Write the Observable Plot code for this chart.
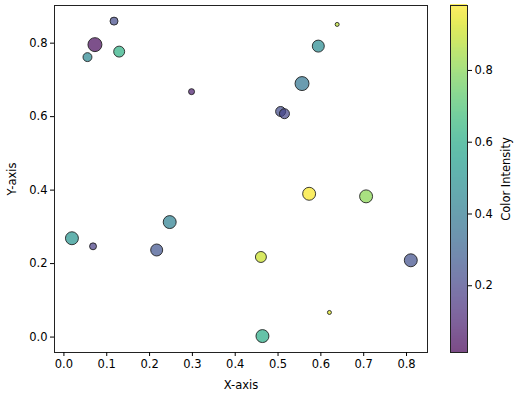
<!DOCTYPE html>
<html>
<head>
<meta charset="utf-8">
<script src="https://cdn.jsdelivr.net/npm/d3@7"></script>
<script src="https://cdn.jsdelivr.net/npm/@observablehq/plot@0.6"></script>
<style>
  html, body { margin: 0; padding: 0; background: #fff; }
  #wrap { position: relative; width: 525px; height: 395px; font-family: "DejaVu Sans", sans-serif; }
  #main, #cbar { position: absolute; top: 0; }
  #main { left: 0; }
  #cbar { left: 430px; }
</style>
</head>
<body>
<div id="wrap"><div id="main"></div><div id="cbar"></div></div>
<script>
const xs = [0.117, 0.0724, 0.055, 0.129, 0.298, 0.638, 0.594, 0.556, 0.506, 0.515,
            0.0187, 0.068, 0.2166, 0.247, 0.5726, 0.7056, 0.460, 0.810, 0.620, 0.4636];
const ys = [0.860, 0.796, 0.762, 0.777, 0.668, 0.851, 0.792, 0.690, 0.614, 0.608,
            0.269, 0.247, 0.237, 0.313, 0.390, 0.383, 0.218, 0.209, 0.067, 0.0027];
const colors = [0.22, 0.03, 0.45, 0.62, 0.08, 0.88, 0.47, 0.38, 0.22, 0.20,
                0.50, 0.18, 0.25, 0.42, 0.97, 0.80, 0.90, 0.24, 0.93, 0.60];
const sizes = [160, 490, 200, 300, 90, 40, 360, 490, 250, 250,
               420, 120, 360, 420, 420, 420, 300, 420, 40, 420];
const xTicks = [0, 0.1, 0.2, 0.3, 0.4, 0.5, 0.6, 0.7, 0.8];
const yTicks = [0, 0.2, 0.4, 0.6, 0.8];
const cTicks = [0.2, 0.4, 0.6, 0.8];
const colorDomain = [0.014, 0.981];

const points = xs.map((x, i) => ({x, y: ys[i], c: colors[i], s: sizes[i]}));
const font = "DejaVu Sans, sans-serif";

const main = Plot.plot({
  width: 430, height: 395,
  marginLeft: 54, marginRight: 3, marginTop: 5, marginBottom: 43,
  style: {fontFamily: font, fontSize: "11.5px", color: "#000", background: "#fff"},
  x: {domain: [-0.022, 0.849]},
  y: {domain: [-0.042, 0.9025]},
  r: {type: "sqrt", domain: [0, 500], range: [0, Math.sqrt(50)]},
  color: {type: "linear", scheme: "viridis", domain: colorDomain},
  marks: [
    Plot.frame({stroke: "#222", strokeWidth: 1}),
    Plot.dot(points, {x: "x", y: "y", r: "s", fill: "c", fillOpacity: 0.7,
                      stroke: "#1a1a1a", strokeOpacity: 0.85, strokeWidth: 1}),
    Plot.axisX({ticks: xTicks, tickFormat: ".1f", tickSize: 4, tickPadding: 3,
                label: "X-axis", labelAnchor: "center", labelArrow: "none", labelOffset: 36}),
    Plot.axisY({ticks: yTicks, tickFormat: ".1f", tickSize: 4, tickPadding: 3,
                label: "Y-axis", labelAnchor: "center", labelArrow: "none", labelOffset: 47})
  ]
});
document.getElementById("main").appendChild(main);

const n = 240;
const step = (colorDomain[1] - colorDomain[0]) / n;
const stops = d3.range(n).map(i => colorDomain[0] + i * step);

const cbar = Plot.plot({
  width: 95, height: 395,
  marginLeft: 20, marginRight: 58, marginTop: 5, marginBottom: 43,
  style: {fontFamily: font, fontSize: "11.5px", color: "#000", background: "#fff"},
  x: {domain: [0, 1], axis: null},
  y: {domain: colorDomain},
  color: {type: "linear", scheme: "viridis", domain: colorDomain},
  marks: [
    Plot.rect(stops, {x1: 0, x2: 1, y1: d => d, y2: d => d + step * 1.5, fill: d => d,
                      shapeRendering: "crispEdges"}),
    Plot.frame({stroke: "#222", strokeWidth: 1}),
    Plot.axisY({anchor: "right", ticks: cTicks, tickFormat: ".1f", tickSize: 4, tickPadding: 3,
                label: "Color Intensity", labelAnchor: "center", labelArrow: "none", labelOffset: 42})
  ]
});
const rg = cbar.querySelector('g[aria-label="rect"]');
if (rg) rg.setAttribute("opacity", 0.7);
document.getElementById("cbar").appendChild(cbar);
</script>
</body>
</html>
